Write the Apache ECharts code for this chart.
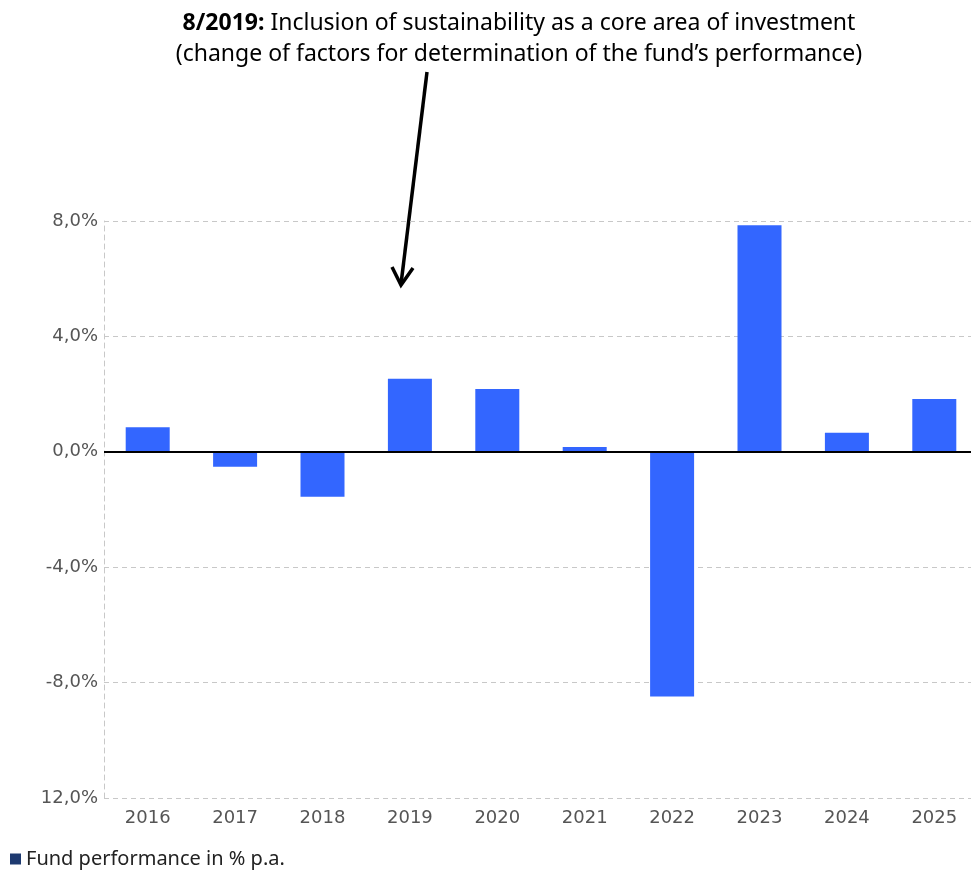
<!DOCTYPE html>
<html>
<head>
<meta charset="utf-8">
<title>Fund performance</title>
<script src="https://cdn.jsdelivr.net/npm/echarts@6/dist/echarts.min.js"></script>
<style>
  html, body { margin: 0; padding: 0; background: #fff; }
  #chart { width: 971px; height: 870px; }
</style>
</head>
<body>
<div id="chart"></div>
<script>
// data
const years = ['2016', '2017', '2018', '2019', '2020', '2021', '2022', '2023', '2024', '2025']
const performance = [0.85, -0.52, -1.56, 2.53, 2.18, 0.17, -8.48, 7.85, 0.66, 1.83]
const yTicks = [-12, -8, -4, 0, 4, 8]
const yTickLabels = ['12,0%', '-8,0%', '-4,0%', '0,0%', '4,0%', '8,0%'] // bottom label shows no minus sign in the original
const seriesName = 'Fund performance in % p.a.'

const chart = echarts.init(document.getElementById('chart'))

const option = {
  animation: false,
  backgroundColor: '#fff',
  textStyle: { fontFamily: 'DejaVu Sans' },
  legend: {
    left: 10,
    top: 849,
    padding: 0,
    icon: 'rect',
    itemWidth: 11,
    itemHeight: 11,
    itemGap: 6,
    textStyle: { fontFamily: 'Noto Sans', fontSize: 20, color: '#222' },
    data: [{ name: seriesName, itemStyle: { color: '#1e3a70' } }]
  },
  // plot runs a little past the right edge of the picture, as in the original
  grid: { left: 104, width: 874, top: 221, bottom: 72, outerBoundsMode: 'none' },
  xAxis: {
    type: 'category',
    data: years,
    axisLine: { show: false },
    axisTick: { show: false },
    axisLabel: { color: '#555', fontSize: 18, margin: 11 }
  },
  yAxis: {
    type: 'value',
    min: -12,
    max: 8,
    interval: 4,
    axisLine: { show: true, lineStyle: { color: '#c8c8c8', type: [5, 4] } },
    axisTick: { show: false },
    axisLabel: {
      color: '#555',
      fontSize: 18,
      margin: 6,
      formatter: v => yTickLabels[yTicks.indexOf(v)]
    },
    splitLine: { lineStyle: { color: '#c8c8c8', type: [5, 4] } }
  },
  series: [{
    name: seriesName,
    type: 'bar',
    data: performance,
    barWidth: 44,
    itemStyle: { color: '#3366ff' },
    markLine: {
      silent: true,
      symbol: 'none',
      label: { show: false },
      lineStyle: { color: '#000', width: 2, type: 'solid' },
      data: [{ yAxis: 0 }]
    }
  }],
  graphic: [
    {
      type: 'text',
      x: 519,
      y: 8,
      style: {
        text: '{b|8/2019:} Inclusion of sustainability as a core area of investment\n(change of factors for determination of the fund\u2019s performance)',
        align: 'center',
        fill: '#000',
        font: '23px "Noto Sans"',
        lineHeight: 31,
        rich: {
          b: { fontWeight: 'bold', fontSize: 23, fontFamily: 'Noto Sans', fill: '#000' }
        }
      }
    },
    {
      type: 'line',
      shape: { x1: 427, y1: 72, x2: 401, y2: 284 },
      style: { stroke: '#000', lineWidth: 3.5 }
    },
    {
      type: 'polyline',
      shape: { points: [[392, 267], [401, 285], [413, 268]] },
      style: { stroke: '#000', lineWidth: 3.5, fill: null }
    }
  ]
}

chart.setOption(option)
</script>
</body>
</html>
